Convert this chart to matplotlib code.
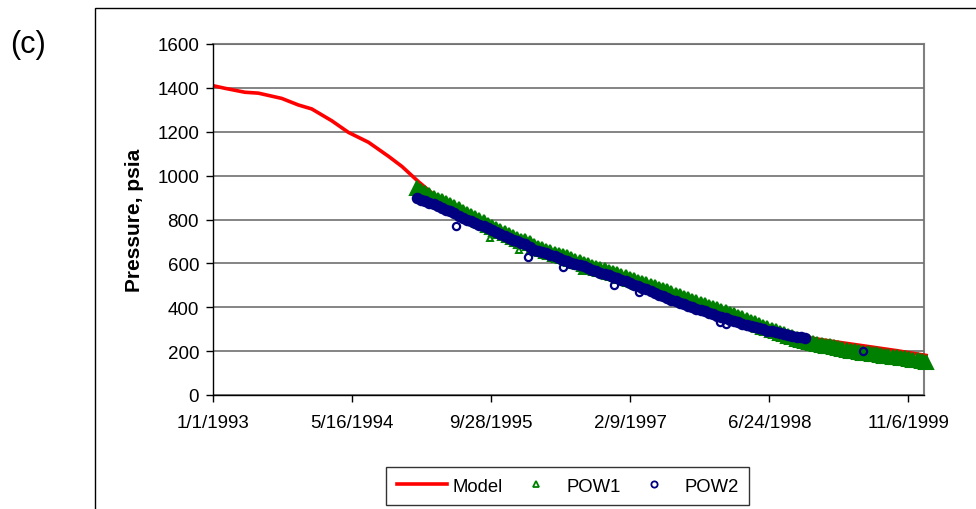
import numpy as np
import matplotlib
matplotlib.use("Agg")
import matplotlib.pyplot as plt
from matplotlib.lines import Line2D
from matplotlib.patches import Rectangle

plt.rcParams['font.family'] = ['Liberation Sans', 'DejaVu Sans']

START = np.datetime64('1993-01-01')

# Model pressure (days since 1/1/1993, psia)
model_days = [0, 43, 115, 163, 247, 307, 355, 427, 487, 559, 631, 679, 739, 792,
              853, 913, 972, 1032, 1092, 1152, 1212, 1272, 1332, 1392, 1452, 1512,
              1572, 1632, 1692, 1752, 1812, 1872, 1932, 1992, 2052, 2127, 2219,
              2339, 2459, 2570]
model_psia = [1410, 1398, 1380, 1376, 1352, 1322, 1304, 1250, 1197, 1152, 1088, 1042, 972, 915,
              876, 834, 796, 758, 721, 689, 659, 634, 606, 583, 559, 532,
              506, 481, 453, 425, 399, 374, 346, 318, 290, 264, 246,
              224, 202, 179]

# Observation well POW1, sampled every 15 days from 1/4/1995
pow1_start = 733
pow1_psia = [942, 931, 920, 910, 900, 891, 883, 875, 867, 857, 846, 836, 825, 815, 806, 796,
             787, 777, 767, 758, 749, 739, 730, 720, 711, 703, 700, 695, 680, 672, 665, 657,
             650, 644, 638, 632, 627, 619, 612, 604, 597, 591, 585, 580, 574, 568, 562, 557,
             551, 544, 537, 531, 524, 517, 511, 504, 498, 491, 485, 478, 472, 465, 458, 451,
             444, 437, 429, 422, 415, 409, 403, 396, 390, 384, 378, 371, 365, 357, 350, 342,
             335, 327, 320, 312, 305, 298, 291, 284, 277, 270, 263, 256, 250, 245, 241, 236,
             232, 229, 225, 222, 218, 214, 209, 205, 202, 199, 196, 193, 191, 188, 186, 183,
             180, 178, 175, 172, 169, 167, 164, 161, 158, 155, 152]
pow1_extra_days = [996, 1099, 1326]
pow1_extra_psia = [714, 661, 566]

# Observation well POW2, sampled every 15 days from 1/4/1995
pow2_start = 733
pow2_psia = [898, 891, 884, 877, 870, 862, 854, 845, 837, 828, 818, 809, 799, 792, 784, 777,
             769, 760, 751, 742, 734, 725, 717, 708, 700, 691, 688, 675, 663, 657, 651, 646,
             640, 632, 624, 617, 609, 603, 597, 592, 586, 578, 570, 563, 555, 550, 545, 539,
             534, 526, 518, 511, 503, 496, 488, 481, 473, 465, 458, 450, 442, 435, 428, 421,
             414, 407, 400, 393, 388, 382, 375, 368, 362, 355, 349, 342, 336, 331, 325, 320,
             315, 310, 304, 299, 294, 290, 286, 282, 278, 274, 270, 266, 263, 262]
pow2_extra_days = [875, 1134, 1260, 1440, 1530, 1824, 1845, 2337]
pow2_extra_psia = [769, 630, 585, 501, 468, 331, 324, 200]

x_tick_labels = ["1/1/1993", "5/16/1994", "9/28/1995", "2/9/1997", "6/24/1998", "11/6/1999"]
y_ticks = [0, 200, 400, 600, 800, 1000, 1200, 1400, 1600]


def to_dates(days):
    return START + np.asarray(days, dtype='timedelta64[D]')


def label_to_date(s):
    m, d, y = (int(v) for v in s.split('/'))
    return np.datetime64(f"{y:04d}-{m:02d}-{d:02d}")


pow1_days = pow1_start + 15 * np.arange(len(pow1_psia))
pow2_days = pow2_start + 15 * np.arange(len(pow2_psia))

GREEN = '#008000'
NAVY = '#000080'
RED = '#ff0000'

fig = plt.figure(figsize=(9.76, 5.10), dpi=100)
fig.patch.set_facecolor('white')

# outer chart frame (extends past the right and bottom edges)
frame_top = 1 - 8.5 / 510
fig.patches.append(Rectangle((94.5 / 976, -0.2), 1.0, frame_top + 0.2,
                             transform=fig.transFigure, fill=False,
                             edgecolor='black', linewidth=1.0))

ax = fig.add_axes([213 / 976, 1 - 396 / 510, 711 / 976, 351 / 510])

ax.plot(to_dates(model_days), model_psia, color=RED, linewidth=2.6,
        zorder=2, clip_on=False, solid_capstyle='butt')

# dense records render as a solid band of overlapping markers
tri_band = dict(marker='^', linestyle='none', markerfacecolor=GREEN,
                markeredgecolor=GREEN, markeredgewidth=1.5, markersize=10.0)
circ_band = dict(marker='o', linestyle='none', markerfacecolor=NAVY,
                 markeredgecolor=NAVY, markeredgewidth=1.5, markersize=6.8)
tri = dict(marker='^', linestyle='none', markerfacecolor='none',
           markeredgecolor=GREEN, markeredgewidth=1.4, markersize=5)
circ = dict(marker='o', linestyle='none', markerfacecolor='none',
            markeredgecolor=NAVY, markeredgewidth=1.6, markersize=5.2)

ax.plot(to_dates(pow1_days), pow1_psia, zorder=3, clip_on=False, **tri_band)
ax.plot(to_dates(pow1_extra_days), pow1_extra_psia, zorder=3, **tri)
ax.plot(to_dates(pow2_days), pow2_psia, zorder=4, clip_on=False, **circ_band)
ax.plot(to_dates(pow2_extra_days), pow2_extra_psia, zorder=4, **circ)

ax.set_xlim(START, np.datetime64('2000-01-01'))
ax.set_ylim(0, 1600)

ax.set_xticks([label_to_date(s) for s in x_tick_labels])
ax.set_xticklabels(x_tick_labels)
ax.set_yticks(y_ticks)
ax.set_yticklabels([str(v) for v in y_ticks])

ax.tick_params(axis='both', direction='out', length=5, width=1, color='black',
               labelsize=13.5, labelcolor='black')
ax.tick_params(axis='x', pad=9)
ax.tick_params(axis='y', pad=5)

ax.yaxis.grid(True, color='#707070', linewidth=1.2)
ax.set_axisbelow(True)
for side in ('left', 'bottom'):
    ax.spines[side].set_color('black')
    ax.spines[side].set_linewidth(1.0)
for side in ('top', 'right'):
    ax.spines[side].set_color('#808080')
    ax.spines[side].set_linewidth(1.5)
    ax.spines[side].set_zorder(0.5)

fig.text(134 / 976, 1 - 220 / 510, 'Pressure, psia', rotation=90, ha='center',
         va='center', fontsize=15, fontweight='bold')
fig.text(10 / 976, 1 - 45 / 510, '(c)', ha='left', va='center', fontsize=22)

handles = [
    Line2D([], [], color=RED, linewidth=2.6),
    Line2D([], [], **dict(tri, markersize=5, markeredgewidth=1.3)),
    Line2D([], [], **dict(circ, markersize=4.5, markeredgewidth=1.3)),
]
leg = fig.legend(handles, ['Model', 'POW1', 'POW2'], loc='center',
                 bbox_to_anchor=(567.5 / 976, 1 - 487 / 510), ncol=3,
                 fontsize=13.3, frameon=True, fancybox=False, edgecolor='black',
                 handlelength=2.7, columnspacing=0.45, handletextpad=0.3,
                 borderpad=0.55, borderaxespad=0)
leg.get_frame().set_linewidth(1.0)

fig.savefig('out.png', dpi=100, facecolor='white')
